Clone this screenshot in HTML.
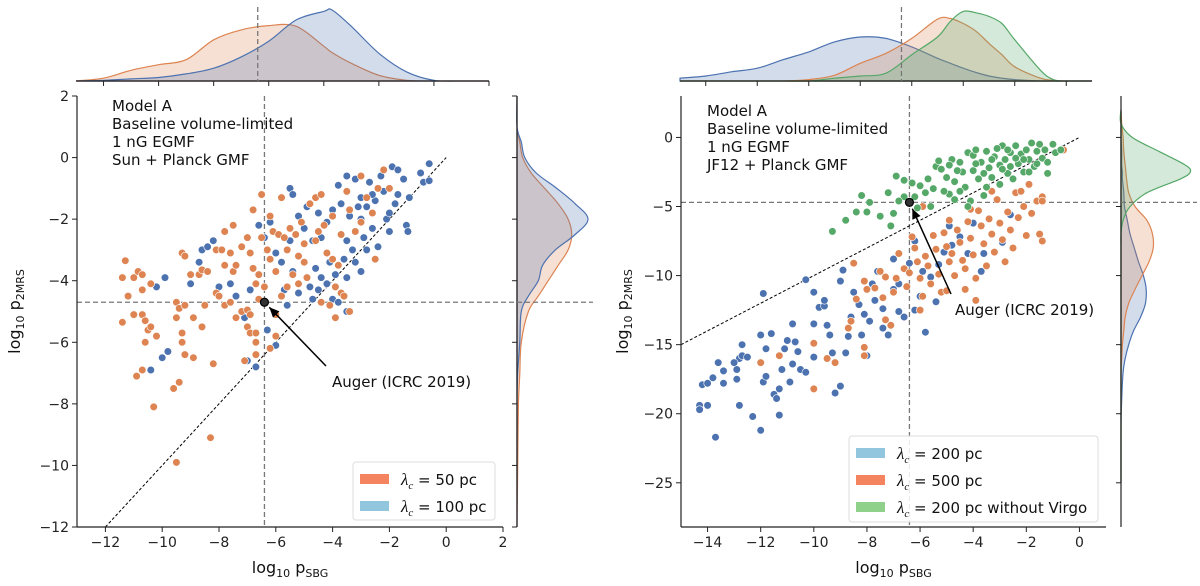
<!DOCTYPE html>
<html><head><meta charset="utf-8"><style>
body{margin:0;background:#fff}
svg{display:block;font-family:"DejaVu Sans","Liberation Sans",sans-serif}
</style></head><body>
<svg id="fig" width="1200" height="586" viewBox="0 0 1200 586" xmlns="http://www.w3.org/2000/svg"></svg>
<script>
// ---------- data: left panel ----------
const leftOrangeX=[-11.4,-11.3,-11.2,-11.4,-11,-10.7,-10.6,-10.5,-10.4,-10.2,-10.6,-11,-10.85,-10.7,-10.7,-10.4,-9.5,-9.4,-9.2,-9.5,-9.3,-9.3,-8.9,-9.2,-8.9,-8.6,-8.5,-9.3,-9.2,-9,-8.7,-8.6,-8.4,-8.1,-8,-7.8,-7.6,-7.4,-7.2,-7,-6.9,-7,-6.9,-6.7,-6.7,-6.7,-7.1,-8.2,-10.9,-10.7,-9.6,-9.4,-10.3,-8.3,-9.5,-6.2,-6,-6,-8.1,-7.8,-7.5,-7.9,-7.8,-7.6,-7.5,-7.4,-7.2,-7,-6.8,-6.9,-6.8,-6.7,-6.6,-6.5,-6.5,-6.2,-6.1,-6.2,-6,-5.9,-5.7,-5.6,-5.5,-5.3,-5.2,-5,-5.4,-5.2,-4.9,-5.1,-4.8,-4.6,-4.6,-4.4,-4.3,-4,-4.2,-4,-3.8,-3.7,-3.5,-3.4,-3.2,-3,-3,-2.8,-2.6,-2.5,-2.4,-2.2,-2,-3.7,-3.6,-4.1,-3.9,-5.6,-5.8,-4.4,-3.9,-3.4,-6.4,-6.6,-5,-4.5,-6.3,-5.8];
const leftOrangeY=[-3.9,-3.35,-4.5,-5.35,-5.1,-5.1,-5.3,-5.6,-5.5,-5.8,-6,-3.9,-3.7,-3.8,-4.3,-4.1,-4.7,-4.9,-4.8,-5.2,-5.7,-6,-5.2,-6.4,-6.5,-5.5,-4.8,-3.1,-3.2,-3.8,-3.8,-3.65,-3.7,-4.4,-4.5,-4.8,-4.7,-5.2,-5,-4.95,-5.1,-5.5,-5.7,-5.7,-6,-6.4,-6.6,-6.7,-7.1,-6.9,-7.5,-7.3,-8.1,-9.1,-9.9,-6.2,-5.8,-5.1,-3,-2.4,-2.2,-3,-3.5,-3.1,-3.7,-3.5,-2.9,-2.6,-1.7,-3.1,-3.6,-4.1,-3.8,-2.6,-1.2,-1.9,-2.4,-3.3,-3.7,-2.5,-2.6,-3,-2.3,-2.5,-3.2,-3.4,-3.8,-4.1,-3.9,-2.1,-1.5,-1.3,-2.7,-1.2,-2.2,-1.9,-3.1,-3.3,-3.5,-2.5,-1.1,-1.7,-2.4,-0.6,-2.1,-1.3,-1.8,-3.3,-1,-0.4,-1,-4.4,-4.5,-4.8,-4.2,-4.2,-4.5,-4.7,-5.2,-5,-4.2,-4.6,-2.8,-2.4,-3,-1.3];
const leftBlueX=[-10.2,-10,-10.4,-9.8,-9.9,-9,-8.6,-8.4,-8.2,-8.7,-8,-7.6,-7.4,-6.9,-7.1,-7,-6.7,-6.3,-6,-6.6,-6.4,-6.2,-6,-5.8,-5.5,-5.5,-5.4,-5,-5,-4.7,-4.6,-4.8,-4.7,-4.5,-4.2,-4,-3.8,-3.5,-3.6,-3.3,-3.5,-3.8,-3.5,-3.2,-3,-2.8,-2.9,-2.6,-2.4,-2.1,-2,-1.8,-1.7,-1.5,-1.4,-1.3,-1.9,-1.7,-0.9,-0.6,-0.8,-0.6,-1.35,-2,-2.2,-2.5,-3,-3.1,-3.4,-3.7,-4,-4.2,-4.4,-4.1,-3.9,-3.5,-3.2,-2.8,-2.6,-2.3,-2.7,-4.5,-4.9,-5.2,-5.7,-5.2,-5.6,-3,-4.4,-5.4];
const leftBlueY=[-4.2,-6.5,-6.9,-6.3,-3.9,-4.1,-3,-2.9,-2.7,-3.4,-4.2,-4.1,-4.5,-4.3,-5.2,-6.6,-6.8,-5.6,-6.1,-2.2,-2.6,-2.1,-3.1,-3.4,-2.7,-1,-1.2,-2.3,-3.4,-2.7,-3.6,-4.2,-4.6,-4.3,-4.1,-4.6,-4.7,-5,-3.3,-3,-2.7,-0.9,-0.6,-0.7,-1.3,-1.6,-2.6,-2.3,-2.9,-2,-2.4,-1.5,-1.2,-0.7,-2.2,-1.3,-0.3,-0.4,-0.5,-0.2,-0.8,-0.75,-2.4,-1.8,-1.1,-1.4,-2,-1.6,-1.9,-1.5,-1.7,-2.1,-2.6,-3.4,-3.8,-3.9,-3.4,-3,-1.2,-0.6,-0.8,-1.8,-1.6,-1.9,-4.3,-4.4,-4.8,-3.7,-3.9,-3.7];
// KDE left
const lTopGrid=[-13,-12,-11,-10,-9,-8,-7,-6,-5,-4,-3.7,-3,-2,-1,0,1,2];
const lTopBlue=[0,0.01,0.03,0.05,0.1,0.18,0.34,0.56,0.86,0.98,1.0,0.77,0.39,0.13,0.01,0,0];
const lTopOrange=[0,0.04,0.15,0.23,0.3,0.58,0.72,0.78,0.77,0.49,0.4,0.25,0.08,0.01,0,0,0];
const lSideGrid=[2,1,0.5,0,-0.5,-1,-1.5,-2,-2.5,-3,-3.5,-4,-4.5,-5,-6,-7,-8,-10,-12];
const lSideBlue=[0,0,0.06,0.11,0.27,0.56,0.82,1.0,0.82,0.54,0.36,0.3,0.16,0.06,0.04,0.01,0,0,0];
const lSideOrange=[0,0,0.04,0.08,0.2,0.39,0.58,0.72,0.77,0.72,0.58,0.44,0.3,0.16,0.06,0.04,0.02,0.01,0];
// ---------- data: right panel ----------
const rGreenX=[-9.3,-8.8,-8.4,-8.2,-7.9,-8,-7.5,-7,-7.1,-7.2,-6.9,-6.6,-6.8,-6.3,-6,-6.2,-5.8,-5.6,-5.4,-5.2,-5.5,-5,-4.9,-4.7,-4.5,-4.4,-4.3,-4.2,-4,-4,-3.8,-3.7,-3.6,-3.5,-3.4,-3.3,-3.2,-3,-3,-2.9,-2.8,-2.7,-2.6,-2.5,-2.4,-2.3,-2.2,-2.1,-2,-1.9,-1.8,-1.7,-1.6,-1.5,-1.4,-1.3,-1.2,-1,-0.9,-0.7,-4.8,-4.6,-3.9,-3.6,-3.1,-2.6,-2.1,-1.6,-5.3,-5.1,-4.1,-3.5,-2.9,-2.4,-1.9,-4.5,-4.2,-5.7,-6.1,-3.9,-4.7,-3.3,-2.7,-1.2,-6.6,-4.9];
const rGreenY=[-6.8,-6,-5.4,-4.2,-4.7,-5.4,-5.7,-5.5,-6.4,-4,-2.8,-4.3,-4.6,-3.3,-3.5,-4.3,-4,-5,-2.1,-2.3,-3.7,-2.9,-4.1,-3.2,-1.8,-2.5,-3.6,-1.1,-1.3,-2.4,-3,-1.8,-4.2,-1,-2.2,-2.9,-1.4,-2,-3.4,-0.6,-1.6,-2.6,-1.1,-3,-0.6,-1.9,-1.2,-2.5,-0.9,-1.6,-0.4,-2.1,-1,-0.5,-1.5,-0.9,-2.6,-0.5,-1.1,-0.9,-1.6,-2.4,-1.9,-2.6,-0.8,-2.1,-1.6,-1.9,-1.7,-3.9,-4.6,-3.6,-2.3,-1.5,-2.5,-3.9,-5,-3,-5.1,-0.9,-4.5,-1.6,-0.9,-1.8,-3.1,-2];
const rOrangeX=[-12,-11.3,-10,-10,-9.5,-9.2,-8.7,-8.6,-8.1,-8.1,-8.4,-8.5,-8.1,-8,-7.7,-7.5,-7.4,-7.3,-7.1,-7,-6.9,-6.8,-6.6,-6.5,-6.4,-6.2,-6.1,-6,-5.9,-5.8,-5.7,-5.6,-5.5,-5.4,-5.3,-5.2,-5.1,-5,-4.9,-4.8,-4.7,-4.6,-4.5,-4.4,-4.3,-4.2,-4.1,-4,-3.9,-3.8,-3.7,-3.6,-3.5,-3.4,-3.3,-3.2,-3.1,-3,-2.9,-2.8,-2.7,-2.6,-2.5,-2.4,-2.3,-2.2,-2.1,-2,-1.9,-1.8,-1.6,-1.5,-1.4,-1.4,-1.4,-0.6,-5.9,-5,-4.3,-3.9,-6,-7.3,-6.3,-4.9,-4.1,-3.3];
const rOrangeY=[-16.3,-15.8,-14.9,-18.2,-16,-16.3,-13.8,-13.3,-15.2,-15.8,-11.7,-9.1,-10.4,-11,-10.9,-9.7,-11.6,-13.2,-13.6,-11.2,-10.2,-8.4,-9.5,-10.8,-9.8,-8,-9,-10.2,-11.5,-8.6,-9.3,-10.6,-7.1,-8.1,-9.9,-11.2,-6.9,-7.9,-9,-8.4,-10,-6.7,-7.6,-8.9,-9.5,-6.1,-7.3,-8.5,-10.2,-5.3,-6.4,-7.7,-9.3,-5.9,-7,-8.3,-4.5,-6.2,-7.4,-9,-5.4,-6.7,-8,-4,-5.8,-3.9,-5,-7.1,-3.4,-5.5,-4.6,-7,-7.5,-4.3,-4.6,-0.9,-5,-11.1,-11,-11.8,-12.5,-10.1,-7.2,-6,-5.2,-3.9];
const rBlueX=[-14.3,-14.3,-14,-13.7,-14.2,-14,-13.8,-13.6,-13.4,-13.4,-12.9,-12.9,-12.8,-12.7,-12.8,-12.5,-12.3,-12,-11.9,-11.8,-11.8,-11.6,-11.5,-11.4,-11.3,-11.3,-11.1,-11,-10.9,-10.8,-10.6,-10.5,-10.3,-10,-10,-9.8,-9.6,-9.5,-9.3,-9.2,-9,-8.8,-8.7,-8.6,-8.5,-8.3,-8.2,-8,-7.9,-7.7,-7.6,-7.4,-7.2,-7,-6.8,-6.6,-6.4,-6.2,-6,-5.8,-5.6,-5.4,-5.1,-4.9,-4.5,-4.2,-3.7,-3.6,-2.6,-11.9,-10.3,-9,-8.9,-9.6,-10,-10.8,-12,-12.7,-7,-7.8,-6.8,-5.9,-5.3,-4.8,-7.4,-8.1,-9.4,-10.7,-11.2,-13,-6.2,-4,-2.9];
const rBlueY=[-19.4,-19.7,-19.4,-21.7,-17.9,-17.8,-17.4,-16.3,-16.9,-17.8,-17.5,-16.8,-16,-15.8,-19.4,-15.9,-20.2,-21.2,-17.7,-17.3,-15.3,-14.2,-18.6,-18.9,-18.2,-20.1,-15.3,-14.7,-17.7,-16.4,-15.5,-16.8,-17,-15.9,-13.5,-12.3,-12.2,-13.6,-15.6,-18.5,-18,-15.6,-14.4,-13,-11.2,-12.1,-14.3,-15.8,-13.3,-11.8,-9.7,-12.4,-14.3,-11,-10.6,-13,-9.1,-12.5,-11.5,-14.1,-10.1,-11.9,-8.3,-6.4,-7.2,-8.4,-9.7,-8.4,-5.6,-11.3,-10.3,-10.4,-9.6,-11.8,-11.2,-13.5,-14.3,-15,-8.8,-10.6,-12.6,-9.7,-9.2,-7.8,-13.8,-12.8,-14.3,-14.8,-16.8,-16.3,-7.5,-6.2,-7.6];
const rTopGrid=[-15,-14,-13,-12,-11,-10,-9,-8,-7,-6,-5,-4.5,-4,-3.5,-3,-2.5,-2,-1,-0.5,0,1];
const rTopBlue=[0.04,0.07,0.13,0.18,0.3,0.41,0.55,0.62,0.6,0.48,0.32,0.25,0.18,0.12,0.07,0.04,0.02,0,0,0,0];
const rTopOrange=[0,0,0,0,0,0.02,0.08,0.25,0.39,0.6,0.87,0.88,0.81,0.7,0.53,0.37,0.2,0.04,0.01,0,0];
const rTopGreen=[0,0,0,0,0,0,0.04,0.07,0.11,0.37,0.62,0.84,0.98,0.96,0.91,0.81,0.58,0.15,0.02,0,0];
const rSideGrid=[2,1,0,-1,-2,-2.5,-3,-4,-5,-6,-7,-8,-9,-10,-11,-12,-13,-14,-15,-16,-17,-19,-21,-25];
const rSideGreen=[0,0,0.16,0.54,0.92,0.99,0.85,0.37,0.13,0.03,0,0,0,0,0,0,0,0,0,0,0,0,0,0];
const rSideOrange=[0,0.01,0.03,0.04,0.06,0.07,0.08,0.11,0.2,0.37,0.45,0.46,0.4,0.3,0.2,0.11,0.06,0.04,0.02,0.01,0,0,0,0];
const rSideBlue=[0,0,0,0.01,0.01,0.02,0.02,0.04,0.05,0.09,0.13,0.19,0.25,0.32,0.36,0.35,0.28,0.18,0.11,0.06,0.03,0.01,0,0];
const leftXTicks=[-12,-10,-8,-6,-4,-2,0,2];
const leftYTicks=[2,0,-2,-4,-6,-8,-10,-12];
const rightXTicks=[-14,-12,-10,-8,-6,-4,-2,0];
const rightYTicks=[0,-5,-10,-15,-20,-25];

const C={blue:"#4c72b0",orange:"#dd8452",green:"#55a868"};
const svg=document.getElementById('fig');
const NS="http://www.w3.org/2000/svg";
function mk(tag,attrs,parent){const e=document.createElementNS(NS,tag);for(const k in attrs)e.setAttribute(k,attrs[k]);(parent||svg).appendChild(e);return e;}
function lin(d0,d1,p0,p1){return v=>p0+(v-d0)/(d1-d0)*(p1-p0);}
function smooth(pts){let d="M"+pts[0][0].toFixed(1)+","+pts[0][1].toFixed(1);
 for(let i=0;i<pts.length-1;i++){const p0=pts[i-1]||pts[i],p1=pts[i],p2=pts[i+1],p3=pts[i+2]||p2;
  const c1=[p1[0]+(p2[0]-p0[0])/6,p1[1]+(p2[1]-p0[1])/6],c2=[p2[0]-(p3[0]-p1[0])/6,p2[1]-(p3[1]-p1[1])/6];
  d+="C"+c1.map(v=>v.toFixed(1))+" "+c2.map(v=>v.toFixed(1))+" "+p2[0].toFixed(1)+","+p2[1].toFixed(1);}
 return d;}

function panel(P){
 const g=mk('g',{});
 
 
 const sx=lin(P.xlim[0],P.xlim[1],P.x0,P.x1), sy=lin(P.ylim[0],P.ylim[1],P.y1,P.y0);
 const tx=lin(P.xlim[0],P.xlim[1],P.tx0,P.tx1);
 P.top.forEach(s=>{const pts=P.topGrid.map((v,i)=>[tx(v),81-s.d[i]*71]);
  const p=mk('path',{d:smooth(pts)+"L"+tx(P.topGrid[P.topGrid.length-1])+",81L"+tx(P.topGrid[0])+",81Z",fill:s.c,"fill-opacity":0.25,stroke:s.c,"stroke-width":1.2},g);
  
  });
 mk('line',{x1:P.tx0,x2:P.tx1,y1:81,y2:81,stroke:"#222","stroke-width":1.2},g);
 P.xticks.forEach(t=>mk('line',{x1:tx(t),x2:tx(t),y1:81,y2:86,stroke:"#222","stroke-width":1},g));
 mk('line',{x1:tx(-6.4),x2:tx(-6.4),y1:7,y2:81,stroke:"#777","stroke-width":1.3,"stroke-dasharray":"5,3"},g);
 P.side.forEach(s=>{const pts=P.sideGrid.map((v,i)=>[P.sx0+s.d[i]*P.sideMax,sy(v)]);
  const p=mk('path',{d:smooth(pts)+"L"+P.sx0+","+sy(P.sideGrid[P.sideGrid.length-1])+"L"+P.sx0+","+sy(P.sideGrid[0])+"Z",fill:s.c,"fill-opacity":0.25,stroke:s.c,"stroke-width":1.2},g);
  
  });
 mk('line',{x1:P.sx0,x2:P.sx0,y1:P.y0,y2:P.y1,stroke:"#222","stroke-width":1.2},g);
 P.yticks.forEach(t=>mk('line',{x1:P.sx0-5,x2:P.sx0,y1:sy(t),y2:sy(t),stroke:"#222","stroke-width":1},g));
 mk('line',{x1:P.x0,x2:P.sx0+76,y1:sy(-4.7),y2:sy(-4.7),stroke:"#777","stroke-width":1.3,"stroke-dasharray":"5,3"},g);
 mk('line',{x1:sx(-6.4),x2:sx(-6.4),y1:P.y0,y2:P.y1,stroke:"#777","stroke-width":1.3,"stroke-dasharray":"5,3"},g);
 const dg=P.diag;mk('line',{x1:sx(dg),y1:sy(dg),x2:sx(0),y2:sy(0),stroke:"#000","stroke-width":1,"stroke-dasharray":"3,2"},g);
 P.series.forEach(s=>{const sg=mk('g',{},g);
  
  
  s.x.forEach((v,i)=>{const c=mk('circle',{cx:sx(v).toFixed(1),cy:sy(s.y[i]).toFixed(1),r:3.8,fill:s.c,stroke:"#fff","stroke-width":0.6},sg);
   
   });});
 const au=mk('circle',{cx:sx(-6.4),cy:sy(-4.7),r:4,fill:"#333",stroke:"#000","stroke-width":1.2},g);
 
 
 const ax=sx(-6.4),ay=sy(-4.7),bx=P.arrow[0],by=P.arrow[1];const ang=Math.atan2(ay-by,ax-bx);
 const hx=ax-7*Math.cos(ang),hy=ay-7*Math.sin(ang);
 mk('line',{x1:bx,y1:by,x2:hx,y2:hy,stroke:"#000","stroke-width":1.5},g);
 const L=10,W=4.5,bxh=hx-L*Math.cos(ang),byh=hy-L*Math.sin(ang);
 mk('polygon',{points:`${hx},${hy} ${bxh-W*Math.sin(ang)},${byh+W*Math.cos(ang)} ${bxh+W*Math.sin(ang)},${byh-W*Math.cos(ang)}`,fill:"#000"},g);
 const at=mk('text',{x:P.atext[0],y:P.atext[1],"font-size":15,fill:"#111"},g);at.textContent="Auger (ICRC 2019)";
 
 
 mk('line',{x1:P.x0,x2:P.x0,y1:P.y0,y2:P.y1,stroke:"#222","stroke-width":1.2},g);
 mk('line',{x1:P.x0,x2:P.x1,y1:P.y1,y2:P.y1,stroke:"#222","stroke-width":1.2},g);
 P.xticks.forEach(t=>{mk('line',{x1:sx(t),x2:sx(t),y1:P.y1,y2:P.y1+5,stroke:"#222"},g);
  const tt=mk('text',{x:sx(t),y:P.y1+20,"font-size":14,"text-anchor":"middle",fill:"#222"},g);tt.textContent=(t<0?"\u2212"+(-t):t);
  
  });
 P.yticks.forEach(t=>{mk('line',{x1:P.x0-5,x2:P.x0,y1:sy(t),y2:sy(t),stroke:"#222"},g);
  const tt=mk('text',{x:P.x0-8,y:sy(t)+5,"font-size":14,"text-anchor":"end",fill:"#222"},g);tt.textContent=(t<0?"\u2212"+(-t):t);
  
  });
 P.model.forEach((s,i)=>{const t=mk('text',{x:P.mx,y:P.my+i*18,"font-size":15,fill:"#111"},g);t.textContent=s;
  
  });
 const xt=mk('text',{x:(P.x0+P.x1)/2,y:573,"font-size":16,"text-anchor":"middle",fill:"#111"},g);
 xt.innerHTML='log<tspan font-size="11" dy="4">10</tspan><tspan dy="-4"> p</tspan><tspan font-size="11" dy="4">SBG</tspan>';
 
 
 const yt=mk('text',{x:0,y:0,"font-size":16,"text-anchor":"middle",fill:"#111",transform:`translate(${P.ylx},${(P.y0+P.y1)/2}) rotate(-90)`},g);
 yt.innerHTML='log<tspan font-size="11" dy="4">10</tspan><tspan dy="-4"> p</tspan><tspan font-size="11" dy="4">2MRS</tspan>';
 
 
 const lg=mk('g',{},g);
 
 
 mk('rect',{x:P.leg[0],y:P.leg[1],width:P.leg[2],height:P.leg[3],rx:3,fill:"#fff","fill-opacity":0.85,stroke:"#ddd"},lg);
 P.legItems.forEach((it,i)=>{const yy=P.leg[1]+17+i*27;
  const e=mk('g',{},lg);
  
  
  mk('rect',{x:P.leg[0]+7,y:yy-5,width:29,height:10,fill:it.c},e);
  const t=mk('text',{x:P.leg[0]+48,y:yy+6,"font-size":15,fill:"#111"},e);
  t.innerHTML='<tspan font-style="italic" font-family="Liberation Serif,serif" font-size="17">λ</tspan><tspan font-style="italic" font-family="Liberation Serif,serif" font-size="11" dy="4">c</tspan><tspan dy="-4"> = '+it.t+'</tspan>';});
}

panel({name:'left-panel',x0:77,x1:503,y0:96,y1:527,xlim:[-13,2],ylim:[-12,2],tx0:76,tx1:489,sx0:517,sideMax:71,
 topGrid:lTopGrid,top:[{n:'orange',c:C.orange,d:lTopOrange},{n:'blue',c:C.blue,d:lTopBlue}],
 sideGrid:lSideGrid,side:[{n:'orange',c:C.orange,d:lSideOrange},{n:'blue',c:C.blue,d:lSideBlue}],
 xticks:leftXTicks,yticks:leftYTicks,diag:-12,
 series:[{n:'blue-100pc',c:C.blue,x:leftBlueX,y:leftBlueY},{n:'orange-50pc',c:C.orange,x:leftOrangeX,y:leftOrangeY}],
 arrow:[326,366],atext:[332,387],model:["Model A","Baseline volume-limited","1 nG EGMF","Sun + Planck GMF"],mx:112,my:111,ylx:20,
 leg:[353,462,142,58],legItems:[{c:"#f4845f",t:"50 pc"},{c:"#92c5de",t:"100 pc"}]});
panel({name:'right-panel',x0:681,x1:1106,y0:96,y1:527,xlim:[-15,1],ylim:[-28.2,3],tx0:680,tx1:1092,sx0:1121,sideMax:70,
 topGrid:rTopGrid,top:[{n:'blue',c:C.blue,d:rTopBlue},{n:'orange',c:C.orange,d:rTopOrange},{n:'green',c:C.green,d:rTopGreen}],
 sideGrid:rSideGrid,side:[{n:'blue',c:C.blue,d:rSideBlue},{n:'orange',c:C.orange,d:rSideOrange},{n:'green',c:C.green,d:rSideGreen}],
 xticks:rightXTicks,yticks:rightYTicks,diag:-15,
 series:[{n:'blue-200pc',c:C.blue,x:rBlueX,y:rBlueY},{n:'orange-500pc',c:C.orange,x:rOrangeX,y:rOrangeY},{n:'green-no-virgo',c:C.green,x:rGreenX,y:rGreenY}],
 arrow:[951,294],atext:[955,315],model:["Model A","Baseline volume-limited","1 nG EGMF","JF12 + Planck GMF"],mx:707,my:116,ylx:628,
 leg:[849,436,249,86],legItems:[{c:"#92c5de",t:"200 pc"},{c:"#f4845f",t:"500 pc"},{c:"#8fd18a",t:"200 pc without Virgo"}]});
</script>
</body></html>
